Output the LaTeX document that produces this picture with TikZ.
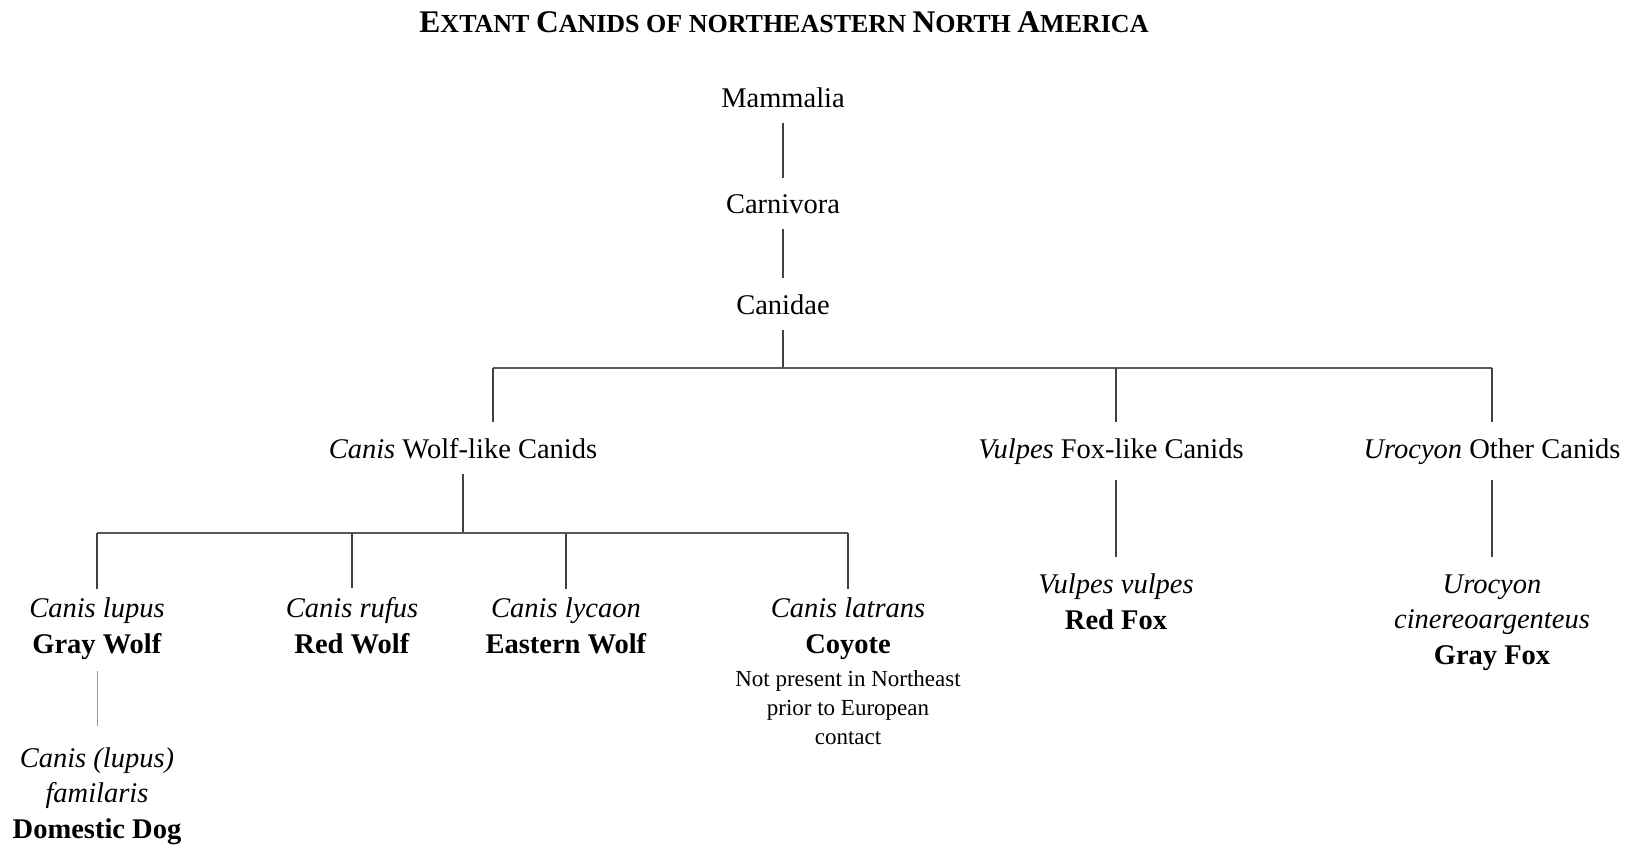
\documentclass[tikz,border=0pt]{standalone}
\usepackage{fontspec}
\setmainfont{Liberation Serif}
\usetikzlibrary{positioning}

\newcommand\tcap[1]{{\fontsize{31.5}{36}\selectfont #1}}

\tikzset{
  taxon/.style={font=\fontsize{28.5}{35.5}\selectfont, inner sep=0pt, outer sep=16pt, anchor=base, align=center},
  species/.style={taxon, outer sep=9pt},
  remark/.style={font=\fontsize{23}{29}\selectfont, inner sep=0pt, anchor=base, align=center},
  branch/.style={draw=black!75, line width=1.4pt},
  crossbar/.style={draw=black!65, line width=2.2pt},
  faint/.style={draw=black!40, line width=0.9pt}
}

\begin{document}
\begin{tikzpicture}[x=1pt, y=-1pt]
\useasboundingbox (0,0) rectangle (1639,847);

\node (title) at (784,32) [anchor=base, inner sep=0pt, font=\bfseries\fontsize{26}{30}\selectfont]
  {\tcap{E}XTANT \tcap{C}ANIDS OF NORTHEASTERN \tcap{N}ORTH \tcap{A}MERICA};

% upper ranks
\node[taxon] (mam) at (783,107) {Mammalia};
\node[taxon] (car) at (783,213) {Carnivora};
\node[taxon] (can) at (783,314) {Canidae};

% genera
\node[taxon] (wolves) at (463,458) {\textit{Canis} Wolf-like Canids};
\node[taxon] (foxes) at (1111,458) {\textit{Vulpes} Fox-like Canids};
\node[taxon] (others) at (1492,458) {\textit{Urocyon} Other Canids};

% species (base = last line)
\node[species] (lupus) at (97,653) {\textit{Canis lupus}\\\textbf{Gray Wolf}};
\node[species] (rufus) at (352,653) {\textit{Canis rufus}\\\textbf{Red Wolf}};
\node[species] (lycaon) at (566,653) {\textit{Canis lycaon}\\\textbf{Eastern Wolf}};
\node[species] (latrans) at (848,653) {\textit{Canis latrans}\\\textbf{Coyote}};
\node[remark] (latransnote) at (848,744) {Not present in Northeast\\prior to European\\contact};
\node[species] (vulpes) at (1116,629) {\textit{Vulpes vulpes}\\\textbf{Red Fox}};
\node[species] (urocyon) at (1492,664) {\textit{Urocyon}\\\textit{cinereoargenteus}\\\textbf{Gray Fox}};
\node[species] (dog) at (97,838) {\textit{Canis (lupus)}\\\textit{familaris}\\\textbf{Domestic Dog}};

% junctions
\coordinate (famL) at (493,368);
\coordinate (famR) at (1492,368);
\coordinate (wolfL) at (97,533);
\coordinate (wolfR) at (848,533);

\draw[branch] (mam) -- (car);
\draw[branch] (car) -- (can);
\draw[branch] (can) -- (can |- famL);
\draw[crossbar] (famL) -- (famR);
\draw[branch] (famL) -- (famL |- wolves.north);
\draw[branch] (foxes.north -| vulpes) -- (vulpes |- famL);
\draw[branch] (famR) -- (others.north);

\draw[branch] (wolves) -- (wolves |- wolfL);
\draw[crossbar] (wolfL) -- (wolfR);
\foreach \sp in {lupus, rufus, lycaon, latrans}
  \draw[branch] (\sp |- wolfL) -- (\sp.north);

\draw[branch, shorten >=8pt] (vulpes |- foxes.south) -- (vulpes.north);
\draw[branch, shorten >=8pt] (others) -- (urocyon.north);
\draw[faint, shorten <=3pt, shorten >=12pt] (lupus) -- (dog);
\end{tikzpicture}
\end{document}
